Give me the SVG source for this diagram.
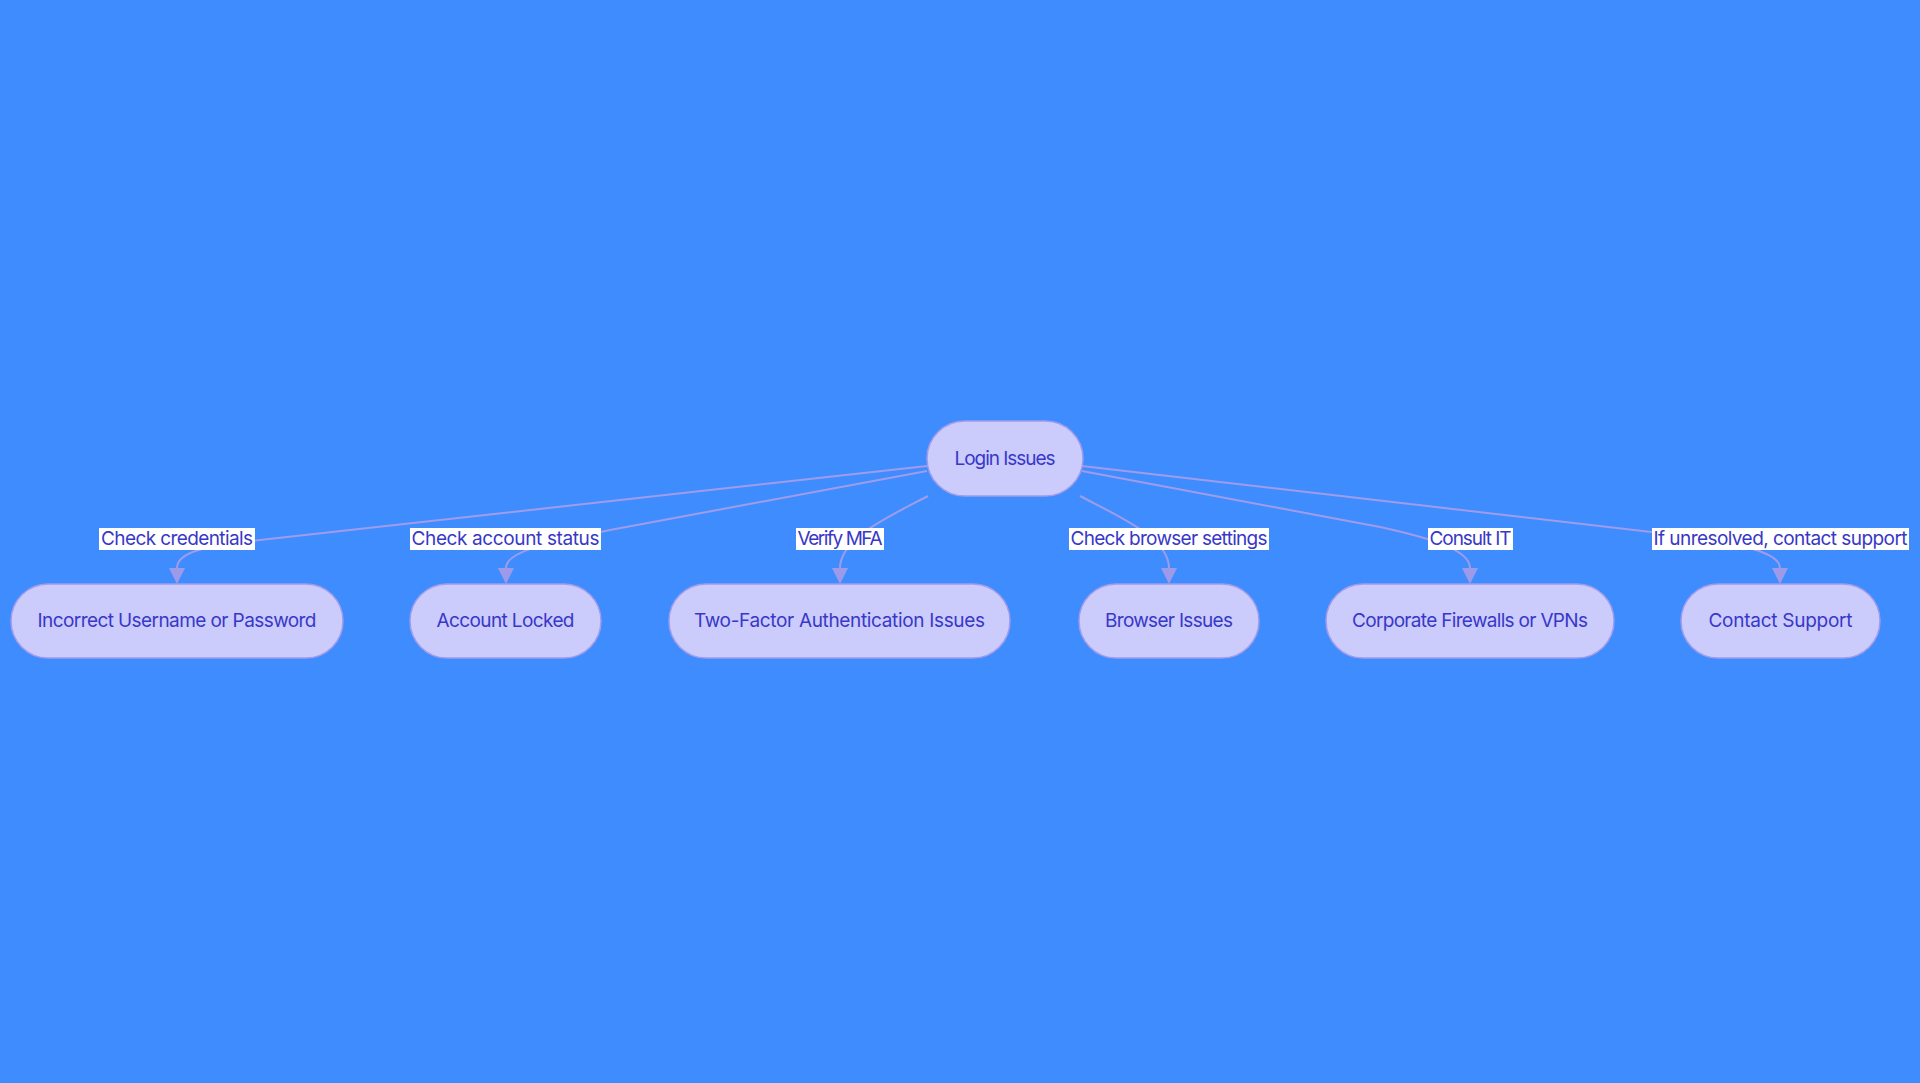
<svg xmlns="http://www.w3.org/2000/svg" width="1920" height="1083" viewBox="0 0 1920 1083">
<style>
  .node rect { fill: #cbcbfc; stroke: #a09cea; stroke-width: 1.5; }
  .node text { font-family: Inter, "Open Sans", "Liberation Sans", sans-serif; font-size: 19px; fill: #3838c8; text-anchor: middle; }
  .edge { fill: none; stroke: #a09cea; stroke-width: 2; }
  .lbl rect { fill: #ffffff; }
  .lbl text { font-family: Inter, "Open Sans", "Liberation Sans", sans-serif; font-size: 19px; fill: #3838c8; text-anchor: middle; }
</style>
<defs>
  <marker id="arr" viewBox="0 0 10 10" refX="0" refY="5" markerUnits="userSpaceOnUse" markerWidth="16" markerHeight="16" orient="auto">
    <path d="M0,0 L10,5 L0,10 z" fill="#9d9aea"/>
  </marker>
</defs>
<rect x="0" y="0" width="1920" height="1083" fill="#3f8cff"/>
<g id="connectors">
  <path class="edge" d="M927,466 L260,540 C205,546 177,552 177,568" marker-end="url(#arr)"/>
  <path class="edge" d="M927,471 L610,530 C540,545 506,552 506,568" marker-end="url(#arr)"/>
  <path class="edge" d="M928,496 C890,516 840,538 840,568" marker-end="url(#arr)"/>
  <path class="edge" d="M1080,496 C1118,516 1169,538 1169,568" marker-end="url(#arr)"/>
  <path class="edge" d="M1082,471 L1380,527 C1440,540 1470,552 1470,568" marker-end="url(#arr)"/>
  <path class="edge" d="M1082,466 L1660,533 C1740,543 1780,552 1780,568" marker-end="url(#arr)"/>
</g>
<g id="edge-labels">
  <g class="lbl"><rect x="99" y="528" width="156" height="22"/><text x="177" y="545" textLength="152">Check credentials</text></g>
  <g class="lbl"><rect x="410" y="528" width="191" height="22"/><text x="505.5" y="545" textLength="188">Check account status</text></g>
  <g class="lbl"><rect x="796" y="528" width="88" height="22"/><text x="840" y="545" textLength="85">Verify MFA</text></g>
  <g class="lbl"><rect x="1069" y="528" width="200" height="22"/><text x="1169" y="545" textLength="197">Check browser settings</text></g>
  <g class="lbl"><rect x="1428" y="528" width="85" height="22"/><text x="1470.5" y="545" textLength="82">Consult IT</text></g>
  <g class="lbl"><rect x="1652" y="528" width="257" height="22"/><text x="1780.5" y="545" textLength="254">If unresolved, contact support</text></g>
</g>
<g id="login-issues" class="node"><rect x="927" y="421" width="156" height="75" rx="37.5"/><text x="1005" y="465" textLength="101">Login Issues</text></g>
<g id="incorrect-credentials" class="node"><rect x="11" y="584" width="332" height="74" rx="37"/><text x="177" y="627" textLength="279">Incorrect Username or Password</text></g>
<g id="account-locked" class="node"><rect x="410" y="584" width="191" height="74" rx="37"/><text x="505.5" y="627" textLength="138">Account Locked</text></g>
<g id="two-factor" class="node"><rect x="669" y="584" width="341" height="74" rx="37"/><text x="839.5" y="627" textLength="291">Two-Factor Authentication Issues</text></g>
<g id="browser-issues" class="node"><rect x="1079" y="584" width="180" height="74" rx="37"/><text x="1169" y="627" textLength="128">Browser Issues</text></g>
<g id="corporate-firewalls" class="node"><rect x="1326" y="584" width="288" height="74" rx="37"/><text x="1470" y="627" textLength="236">Corporate Firewalls or VPNs</text></g>
<g id="contact-support" class="node"><rect x="1681" y="584" width="199" height="74" rx="37"/><text x="1780.5" y="627" textLength="144">Contact Support</text></g>
</svg>
